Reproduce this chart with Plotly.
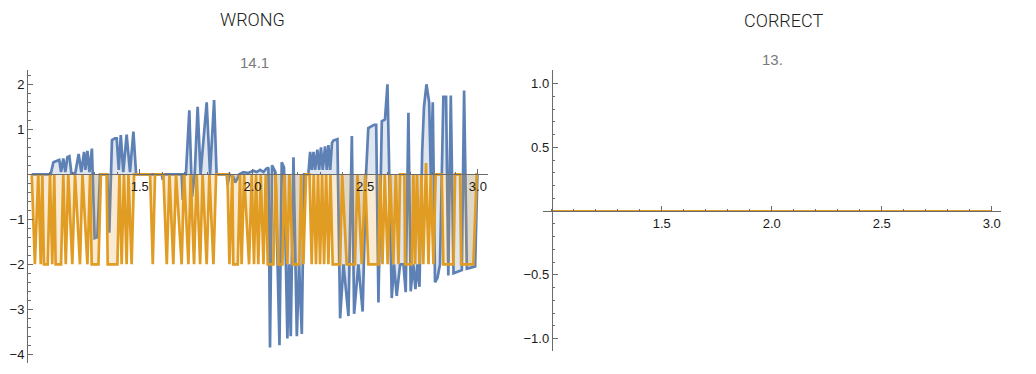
import plotly.graph_objects as go

# ---------------- data ----------------
wrong_blue_x = [1.021, 1.105, 1.117, 1.135, 1.143, 1.151, 1.161, 1.170, 1.179, 1.188,
                1.197, 1.214, 1.229, 1.241, 1.253, 1.259, 1.268, 1.277, 1.288, 1.300,
                1.312, 1.324, 1.356, 1.365, 1.377, 1.390, 1.398, 1.407, 1.416, 1.427,
                1.442, 1.457, 1.472, 1.484, 1.598, 1.602, 1.608, 1.686, 1.691, 1.697,
                1.705, 1.720, 1.732, 1.744, 1.757, 1.770, 1.797, 1.812, 1.830, 1.841,
                1.886, 1.890, 1.898, 1.915, 1.923, 1.933, 1.942, 1.960, 1.982, 2.004,
                2.019, 2.034, 2.049, 2.061, 2.071, 2.078, 2.087, 2.102, 2.120, 2.130,
                2.140, 2.155, 2.162, 2.170, 2.182, 2.197, 2.207, 2.219, 2.229, 2.248,
                2.256, 2.263, 2.271, 2.278, 2.288, 2.296, 2.304, 2.312, 2.322, 2.330,
                2.337, 2.345, 2.353, 2.359, 2.377, 2.389, 2.404, 2.426, 2.441, 2.451,
                2.470, 2.489, 2.504, 2.514, 2.540, 2.549, 2.559, 2.574, 2.588, 2.599,
                2.618, 2.628, 2.640, 2.655, 2.670, 2.680, 2.692, 2.702, 2.714, 2.723,
                2.732, 2.741, 2.753, 2.761, 2.772, 2.784, 2.791, 2.800, 2.810, 2.821,
                2.832, 2.847, 2.859, 2.869, 2.880, 2.892, 2.929, 2.939, 2.951, 2.965,
                2.988, 2.998]
wrong_blue_y = [0, 0, 0.27, 0.30, 0.32, 0.05, 0.35, 0.05, 0.38, 0.40,
                0.02, 0.02, 0.45, 0.05, 0.50, 0.10, 0.52, 0.05, 0.57, -1.42,
                -1.40, 0, 0, -1.30, 0.76, 0.80, 0.80, 0.10, 0.87, 0.05,
                0.88, 0.05, 0.95, 0, 0, -0.12, 0, 0, -0.57, 0,
                0, 1.42, -0.50, 0, 1.50, 0, 1.60, 0, 1.65, 0,
                0, -0.24, 0, -0.05, -0.18, -0.10, 0, 0.05, 0.03, 0.08,
                0.05, 0.10, 0.05, 0.12, 0.15, -3.85, 0.20, 0.05, -3.80, 0.27,
                0.15, -3.65, -2.0, -3.60, 0.38, -3.60, -2.0, -3.55, 0, 0,
                0.50, 0.10, 0.50, 0.10, 0.55, 0.10, 0.60, 0.10, 0.62, 0.10,
                0.65, 0.10, 0.70, 0.75, 0.78, -3.20, -2.0, -3.15, 0.85, -3.10,
                -2.0, -3.05, 0, 1.03, 1.10, 1.10, -2.85, 1.18, 1.22, 2.00,
                -2.75, -2.0, -2.70, -2.0, -2.0, -2.62, 1.37, -2.60, -2.0, -2.55,
                -2.0, -2.50, 0.50, 1.50, 2.00, 1.60, 0, 1.60, -2.40, -2.30,
                -2.0, 1.72, 1.72, -2.25, 1.75, -2.20, -2.13, 1.86, -2.10, -2.08,
                -2.05, 0]

wrong_orange_x = [1.021, 1.035, 1.050, 1.061, 1.068, 1.075, 1.092, 1.102, 1.112, 1.121,
                  1.127, 1.151, 1.161, 1.172, 1.183, 1.201, 1.213, 1.235, 1.246, 1.268,
                  1.280, 1.287, 1.317, 1.328, 1.353, 1.358, 1.401, 1.410, 1.420, 1.430,
                  1.442, 1.450, 1.464, 1.475, 1.546, 1.558, 1.568, 1.605, 1.620, 1.632,
                  1.649, 1.661, 1.686, 1.697, 1.716, 1.726, 1.741, 1.753, 1.768, 1.779,
                  1.797, 1.809, 1.827, 1.839, 1.889, 1.898, 1.911, 1.915, 1.935, 1.945,
                  1.952, 1.963, 1.985, 1.997, 2.007, 2.016, 2.026, 2.037, 2.049, 2.059,
                  2.068, 2.093, 2.103, 2.115, 2.133, 2.142, 2.155, 2.164, 2.179, 2.208,
                  2.216, 2.226, 2.238, 2.253, 2.263, 2.272, 2.282, 2.291, 2.300, 2.309,
                  2.318, 2.327, 2.337, 2.346, 2.356, 2.389, 2.398, 2.418, 2.455, 2.466,
                  2.485, 2.500, 2.514, 2.559, 2.566, 2.577, 2.587, 2.600, 2.611, 2.625,
                  2.636, 2.648, 2.655, 2.674, 2.677, 2.707, 2.714, 2.722, 2.730, 2.741,
                  2.750, 2.758, 2.770, 2.781, 2.791, 2.803, 2.813, 2.840, 2.847, 2.892,
                  2.899, 2.921, 2.926, 2.980, 2.995, 3.000]
wrong_orange_y = [0, -2, 0, -2, 0, -2, -2, 0, -2, 0,
                  -2, -2, 0, -2, 0, -2, 0, -2, 0, -2,
                  0, -2, -2, 0, 0, -2, -2, 0, -2, 0,
                  -2, 0, -2, 0, 0, -2, 0, 0, -2, 0,
                  -2, 0, -2, 0, -2, 0, -2, 0, -2, 0,
                  -2, 0, -2, 0, 0, -2, 0, -2, -2, 0,
                  -2, 0, -2, 0, -2, 0, -2, 0, -2, 0,
                  -2, -2, 0, -2, -2, 0, -2, 0, -2, -2,
                  0, -2, 0, 0, -2, 0, -2, 0, -2, 0,
                  -2, 0, -2, 0, -2, -2, 0, -2, -2, 0,
                  -2, 0, -2, -2, 0, -2, 0, -2, 0, -2,
                  0, -2, 0, 0, -2, -2, 0, -2, 0, -2,
                  0, -2, 0.25, -2, 0, -2, 0, 0, -2, -2,
                  0, 0, -2, -2, 0, 0]

correct_x = [1.0, 3.0]
correct_blue_y = [0, 0]
correct_orange_y = [0, 0]

x_tick_vals = [1.5, 2.0, 2.5, 3.0]
x_tick_text = ["1.5", "2.0", "2.5", "3.0"]
wrong_y_vals = [-4, -3, -2, -1, 1, 2]
wrong_y_text = ["\u22124", "\u22123", "\u22122", "\u22121", "1", "2"]
correct_y_vals = [-1.0, -0.5, 0.5, 1.0]
correct_y_text = ["\u22121.0", "\u22120.5", "0.5", "1.0"]

titles = ["WRONG", "CORRECT"]
labels = ["14.1", "13."]

# ---------------- styling ----------------
PAGE_OFF = 8            # default page margin of the html body
W, H = 1036 - PAGE_OFF, 374 - PAGE_OFF
BLUE = "#5E81B5"
ORANGE = "#E19C24"
BLUE_FILL = "rgba(94,129,181,0.2)"
ORANGE_FILL = "rgba(225,156,36,0.2)"
AXIS = "#6b6b6b"
TICKFONT = dict(family="Liberation Sans, Arial, sans-serif", size=13, color="#1a1a1a")


def px_x(p):
    return (p - PAGE_OFF) / W


def px_y(p):
    return 1 - (p - PAGE_OFF) / H


# left panel geometry (window pixels)
L_xdom = [px_x(27), px_x(488)]
L_ydom = [px_y(363), px_y(70)]
L_xr = [1.0, 3.045]
L_yr = [-4.193, 2.318]
# right panel geometry
R_xdom = [px_x(543), px_x(1001)]
R_ydom = [px_y(351), px_y(70)]
R_xr = [0.96, 3.042]
R_yr = [-1.098, 1.106]


def zero_pos(dom, rng, val):
    return dom[0] + (val - rng[0]) / (rng[1] - rng[0]) * (dom[1] - dom[0])


fig = go.Figure()
fig.add_trace(go.Scatter(x=wrong_blue_x, y=wrong_blue_y, mode="lines",
                         line=dict(color=BLUE, width=2.7), fill="tozeroy",
                         fillcolor=BLUE_FILL, xaxis="x", yaxis="y", hoverinfo="skip"))
fig.add_trace(go.Scatter(x=wrong_orange_x, y=wrong_orange_y, mode="lines",
                         line=dict(color=ORANGE, width=2.7), fill="tozeroy",
                         fillcolor=ORANGE_FILL, xaxis="x", yaxis="y", hoverinfo="skip"))
fig.add_trace(go.Scatter(x=correct_x, y=correct_blue_y, mode="lines",
                         line=dict(color=BLUE, width=2), fill="tozeroy",
                         fillcolor=BLUE_FILL, xaxis="x2", yaxis="y2", hoverinfo="skip"))
fig.add_trace(go.Scatter(x=correct_x, y=correct_orange_y, mode="lines",
                         line=dict(color=ORANGE, width=2), fill="tozeroy",
                         fillcolor=ORANGE_FILL, xaxis="x2", yaxis="y2", hoverinfo="skip"))


def xaxis_cfg(dom, rng, pos):
    return dict(domain=dom, range=rng, anchor="free", position=pos,
                showline=True, linecolor=AXIS, linewidth=1,
                ticks="inside", ticklen=5, tickwidth=1, tickcolor=AXIS,
                tickmode="array", tickvals=x_tick_vals, ticktext=x_tick_text,
                tickfont=TICKFONT, showgrid=False, zeroline=False,
                minor=dict(ticks="inside", ticklen=2.5, tickcolor=AXIS,
                           tickmode="linear", tick0=1.0, dtick=0.1, showgrid=False))


def yaxis_cfg(dom, rng, pos, vals, text, minor_dt):
    return dict(domain=dom, range=rng, anchor="free", position=pos, side="left",
                showline=True, linecolor=AXIS, linewidth=1,
                ticks="inside", ticklen=5, tickwidth=1, tickcolor=AXIS,
                tickmode="array", tickvals=vals, ticktext=text,
                tickfont=TICKFONT, showgrid=False, zeroline=False,
                minor=dict(ticks="inside", ticklen=2.5, tickcolor=AXIS,
                           tickmode="linear", tick0=0, dtick=minor_dt, showgrid=False))


fig.update_layout(
    width=W, height=H,
    margin=dict(l=0, r=0, t=0, b=0),
    paper_bgcolor="white", plot_bgcolor="white",
    showlegend=False,
    xaxis=xaxis_cfg(L_xdom, L_xr, zero_pos(L_ydom, L_yr, 0)),
    yaxis=yaxis_cfg(L_ydom, L_yr, zero_pos(L_xdom, L_xr, 1.0), wrong_y_vals, wrong_y_text, 0.2),
    xaxis2=xaxis_cfg(R_xdom, R_xr, zero_pos(R_ydom, R_yr, 0)),
    yaxis2=yaxis_cfg(R_ydom, R_yr, zero_pos(R_xdom, R_xr, 1.0), correct_y_vals, correct_y_text, 0.1),
)

TITLEFONT = dict(family="Roboto, Liberation Sans Narrow, sans-serif",
                 size=18, color="#222222", weight=300)
LABELFONT = dict(family="Liberation Sans, Arial, sans-serif", size=15, color="#7a7a7a")
fig.add_annotation(x=px_x(252), y=px_y(19.5), xref="paper", yref="paper", text=titles[0],
                   showarrow=False, font=TITLEFONT, xanchor="center", yanchor="middle")
fig.add_annotation(x=px_x(783.5), y=px_y(20.5), xref="paper", yref="paper", text=titles[1],
                   showarrow=False, font=TITLEFONT, xanchor="center", yanchor="middle")
fig.add_annotation(x=px_x(254), y=px_y(62.5), xref="paper", yref="paper", text=labels[0],
                   showarrow=False, font=LABELFONT, xanchor="center", yanchor="middle")
fig.add_annotation(x=px_x(772), y=px_y(59), xref="paper", yref="paper", text=labels[1],
                   showarrow=False, font=LABELFONT, xanchor="center", yanchor="middle")

fig.write_html("out.html")
